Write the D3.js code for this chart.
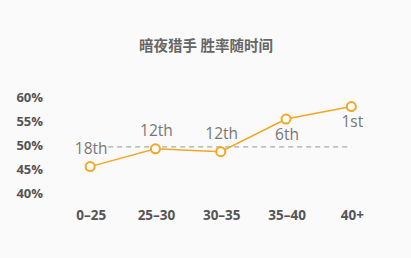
<!DOCTYPE html>
<html>
<head>
<meta charset="utf-8">
<script src="https://cdn.jsdelivr.net/npm/d3@7.9.0/dist/d3.min.js"></script>
<style>
  html, body { margin: 0; padding: 0; background: #fafafa; }
  svg { display: block; }
</style>
</head>
<body>
<div id="chart"></div>
<script>
const title = '暗夜猎手 胜率随时间';
const categories = ['0–25', '25–30', '30–35', '35–40', '40+'];
const winRates = [45.5, 49.2, 48.6, 55.4, 58.0];
const ranks = ['18th', '12th', '12th', '6th', '1st'];
const labelBelow = [false, false, false, true, true];
const refRate = 49.6;
const yTicks = [40, 45, 50, 55, 60];

const width = 411, height = 258;
const svg = d3.select('#chart').append('svg')
  .attr('width', width)
  .attr('height', height);

svg.append('rect').attr('width', width).attr('height', height).attr('fill', '#fafafa');

const x = d3.scaleBand().domain(categories).range([57.5, 384]);
const y = d3.scaleLinear().domain([40, 60]).range([193, 97]);
const cx = d => x(d) + x.bandwidth() / 2;

svg.append('text')
  .attr('x', 206).attr('y', 46)
  .attr('dy', '0.35em')
  .attr('text-anchor', 'middle')
  .attr('font-family', '"Noto Sans CJK SC", sans-serif')
  .attr('font-size', 14.5).attr('font-weight', 'bold')
  .attr('fill', '#666')
  .text(title);

// y axis labels
svg.append('g').selectAll('text')
  .data(yTicks).enter().append('text')
  .attr('x', 43).attr('y', d => y(d))
  .attr('dy', '0.35em')
  .attr('text-anchor', 'end')
  .attr('font-family', '"Open Sans", sans-serif')
  .attr('font-size', 13).attr('font-weight', 'bold')
  .attr('fill', '#555')
  .text(d => d + '%');

// x axis labels
svg.append('g').selectAll('text')
  .data(categories).enter().append('text')
  .attr('x', d => cx(d) + 1).attr('y', 215)
  .attr('dy', '0.35em')
  .attr('text-anchor', 'middle')
  .attr('font-family', '"Open Sans", sans-serif')
  .attr('font-size', 13.5).attr('font-weight', 'bold')
  .attr('fill', '#555')
  .text(d => d);

// reference line
svg.append('line')
  .attr('x1', cx(categories[0])).attr('x2', cx(categories[categories.length - 1]))
  .attr('y1', y(refRate)).attr('y2', y(refRate))
  .attr('stroke', '#aaa').attr('stroke-width', 1.2)
  .attr('stroke-dasharray', '5,4');

const pts = categories.map((c, i) => ({ c, v: winRates[i], r: ranks[i], below: labelBelow[i] }));

svg.append('path')
  .datum(pts)
  .attr('fill', 'none')
  .attr('stroke', '#f5a623')
  .attr('stroke-width', 1.5)
  .attr('d', d3.line().x(d => cx(d.c)).y(d => y(d.v)));

svg.append('g').selectAll('circle')
  .data(pts).enter().append('circle')
  .attr('cx', d => cx(d.c)).attr('cy', d => y(d.v))
  .attr('r', 4.5)
  .attr('fill', '#fff')
  .attr('stroke', '#f5a623')
  .attr('stroke-width', 2);

svg.append('g').selectAll('text')
  .data(pts).enter().append('text')
  .attr('x', d => cx(d.c) + 1)
  .attr('y', d => y(d.v) + (d.below ? 15 : -18))
  .attr('dy', '0.35em')
  .attr('text-anchor', 'middle')
  .attr('font-family', '"Open Sans", sans-serif')
  .attr('font-size', 15.5)
  .attr('fill', '#777')
  .attr('stroke', '#fafafa').attr('stroke-width', 3)
  .attr('paint-order', 'stroke')
  .text(d => d.r);
</script>
</body>
</html>
